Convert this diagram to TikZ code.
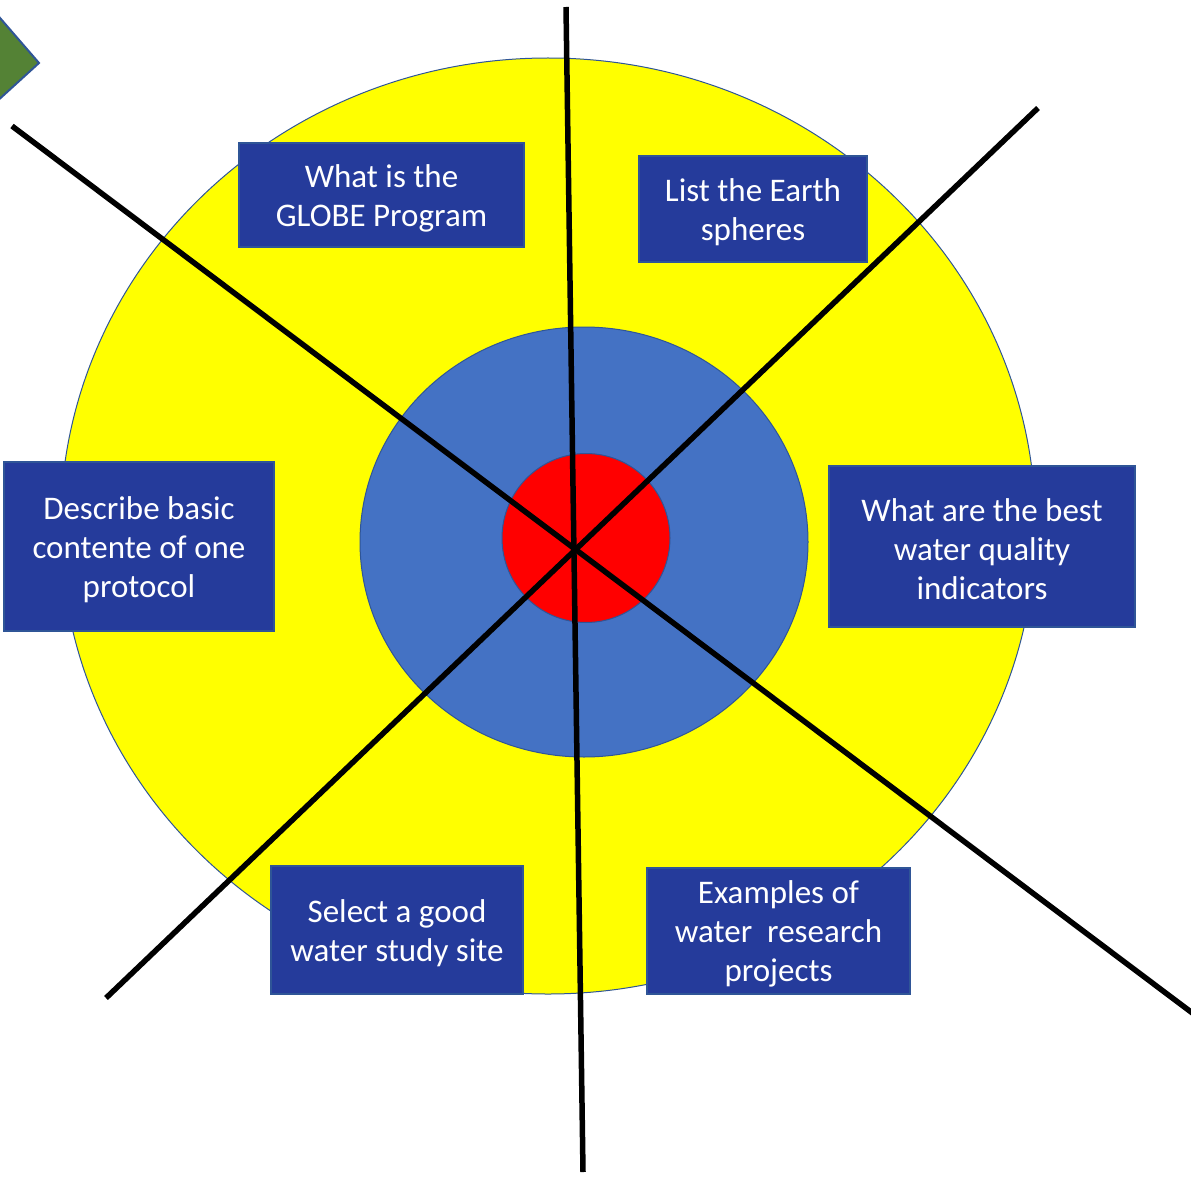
\documentclass[tikz,border=0pt]{standalone}
\usepackage{fontspec}
\setmainfont{Carlito}
\usetikzlibrary{shapes.geometric}
\definecolor{boxblue}{HTML}{253B9B}
\definecolor{edgeblue}{HTML}{2F5597}
\definecolor{ringblue}{HTML}{4472C4}
\definecolor{leafgreen}{HTML}{548235}
\definecolor{sunyellow}{HTML}{FFFF00}
\begin{document}
\begin{tikzpicture}[x=1pt,y=-1pt,
  topic/.style={draw=edgeblue, line width=1.5pt, fill=boxblue, text=white,
    font=\fontsize{33}{39}\selectfont, align=center, inner sep=0pt},
  label/.style={text=white, font=\fontsize{33}{39}\selectfont, align=center, inner sep=0pt, yshift=-3pt},
  spoke/.style={line width=5.5pt, black}]
\useasboundingbox (0,0) rectangle (1191,1177);
\begin{scope}
\clip (0,0) rectangle (1191,1177);
\fill[leafgreen, draw=edgeblue, line width=2pt] (39,63) -- (-6,11) -- (-40,63) -- (-6,104) -- cycle;
\end{scope}
\node[ellipse, draw=edgeblue, line width=1pt, fill=sunyellow, minimum width=975pt, minimum height=936pt, inner sep=0pt] (outer) at (548,526) {};
\node[ellipse, draw=edgeblue, line width=1pt, fill=ringblue, minimum width=448pt, minimum height=430pt, inner sep=0pt] (middle) at (584,542) {};
\node[ellipse, draw=edgeblue, line width=1pt, fill=red, minimum width=168pt, minimum height=169pt, inner sep=0pt] (core) at (586,538) {};
\node[topic, minimum width=285pt, minimum height=104pt] (b1) at (381.5,195) {};
\node[topic, minimum width=228pt, minimum height=106pt] (b2) at (753,209) {};
\node[topic, minimum width=270pt, minimum height=169pt] (b3) at (139,546.5) {};
\node[topic, minimum width=306pt, minimum height=161pt] (b4) at (982,546.5) {};
\node[topic, minimum width=252pt, minimum height=128pt] (b5) at (397,930) {};
\node[topic, minimum width=263pt, minimum height=126pt] (b6) at (778.5,931) {};
\node[label] (t1) at (b1) {What is the\\GLOBE Program};
\node[label] (t2) at (b2) {List the Earth\\spheres};
\node[label] (t3) at (b3) {Describe basic\\contente of one\\protocol};
\node[label] (t4) at (b4) {What are the best\\water quality\\indicators};
\node[label] (t5) at (b5) {Select a good\\water study site};
\node[label] (t6) at (b6) {Examples of\\water\ \ research\\projects};
\coordinate (v1) at (566,7);
\coordinate (v2) at (583,1172);
\coordinate (d1a) at (12,126);
\coordinate (d1b) at (1195,1015);
\coordinate (d2a) at (1038,108);
\coordinate (d2b) at (106,998);
\draw[spoke] (v1) -- (v2);
\draw[spoke] (d1a) -- (d1b);
\draw[spoke] (d2a) -- (d2b);
\end{tikzpicture}
\end{document}
